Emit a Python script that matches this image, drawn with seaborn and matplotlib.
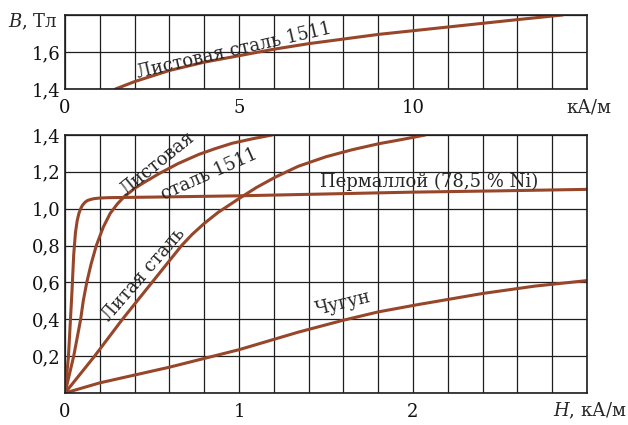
import numpy as np
import pandas as pd
import seaborn as sns
import matplotlib.pyplot as plt

# top panel: Листовая сталь 1511, high field range
h_top = [1.45, 2, 3, 4, 5, 6, 7, 8, 9, 10, 11, 12, 13, 14.3]
b_top = [1.40, 1.44, 1.50, 1.545, 1.58, 1.615, 1.645, 1.67, 1.695, 1.715, 1.735, 1.755, 1.775, 1.80]

# bottom panel
h_perm = [0, 0.02, 0.04, 0.05, 0.06, 0.07, 0.08, 0.09, 0.1, 0.115, 0.13, 0.15, 0.17, 0.2, 0.25, 0.5, 1, 1.5, 2, 2.5, 3]
b_perm = [0, 0.2, 0.55, 0.75, 0.87, 0.935, 0.975, 1.0, 1.018, 1.035, 1.045, 1.051, 1.055, 1.058, 1.06, 1.063, 1.07, 1.08, 1.09, 1.097, 1.105]
h_list = [0, 0.025, 0.05, 0.07, 0.09, 0.105, 0.125, 0.15, 0.18, 0.22, 0.26, 0.3, 0.34, 0.4, 0.45, 0.54, 0.65, 0.77, 0.86, 0.96, 1.08, 1.19]
b_list = [0, 0.1, 0.2, 0.3, 0.4, 0.5, 0.6, 0.7, 0.8, 0.9, 0.975, 1.025, 1.065, 1.11, 1.14, 1.19, 1.245, 1.295, 1.325, 1.355, 1.38, 1.4]
h_lit = [0, 0.17, 0.33, 0.50, 0.67, 0.73, 0.80, 0.88, 1.0, 1.1, 1.21, 1.34, 1.5, 1.65, 1.8, 1.95, 2.07]
b_lit = [0, 0.2, 0.4, 0.6, 0.8, 0.86, 0.92, 0.98, 1.055, 1.115, 1.172, 1.23, 1.282, 1.32, 1.352, 1.378, 1.4]
h_chug = [0, 0.2, 0.6, 1.0, 1.34, 1.6, 1.8, 2.03, 2.4, 2.7, 3.0]
b_chug = [0, 0.055, 0.14, 0.235, 0.33, 0.395, 0.44, 0.48, 0.54, 0.58, 0.61]

top_xticks = list(range(0, 16))
top_xlabels = ['0', '', '', '', '', '5', '', '', '', '', '10', '', '', '', '', '']
top_yticks = [1.4, 1.6, 1.8]
top_ylabels = ['1,4', '1,6', '']
bot_xticks = [round(0.2 * i, 1) for i in range(16)]
bot_xlabels = ['0', '', '', '', '', '1', '', '', '', '', '2', '', '', '', '', '']
bot_yticks = [round(0.2 * i, 1) for i in range(8)]
bot_ylabels = ['', '0,2', '0,4', '0,6', '0,8', '1,0', '1,2', '1,4']

sns.set_style('white')
plt.rcParams['font.family'] = ['DejaVu Serif']
plt.rcParams['mathtext.fontset'] = 'dejavuserif'

col = '#974629'
grid_c = '#1e1e1e'
fs = 13

fig = plt.figure(figsize=(6.28, 4.25), dpi=100)
ax1 = fig.add_axes([65 / 628, 1 - 89 / 425, 522 / 628, 74 / 425])
ax2 = fig.add_axes([65 / 628, 1 - 393 / 425, 522 / 628, 258 / 425])

df_top = pd.DataFrame({'H': h_top, 'B': b_top})
sns.lineplot(data=df_top, x='H', y='B', ax=ax1, color=col, lw=2.2, sort=False, estimator=None)

curves = [(h_perm, b_perm), (h_list, b_list), (h_lit, b_lit), (h_chug, b_chug)]
for h, b in curves:
    d = pd.DataFrame({'H': h, 'B': b})
    sns.lineplot(data=d, x='H', y='B', ax=ax2, color=col, lw=2.2, sort=False, estimator=None)

for ax, xt, xl, yt, yl, xlim, ylim in [
        (ax1, top_xticks, top_xlabels, top_yticks, top_ylabels, (0, 15), (1.4, 1.8)),
        (ax2, bot_xticks, bot_xlabels, bot_yticks, bot_ylabels, (0, 3), (0, 1.4))]:
    ax.set_xlim(*xlim)
    ax.set_ylim(*ylim)
    ax.set_xticks(xt)
    ax.set_xticklabels(xl)
    ax.set_yticks(yt)
    ax.set_yticklabels(yl)
    ax.set_xlabel('')
    ax.set_ylabel('')
    ax.grid(True, color=grid_c, lw=0.9)
    ax.set_axisbelow(True)
    ax.tick_params(length=0, labelsize=fs, colors='#111111')
    ax.tick_params(axis='x', pad=7)
    ax.tick_params(axis='y', pad=3)
    for s in ax.spines.values():
        s.set_color(grid_c)
        s.set_linewidth(1.2)

# axis captions
fig.text(8 / 628, 1 - 22 / 425, '$B$, Тл', fontsize=fs, va='center', ha='left')
fig.text(589 / 628, 1 - 107 / 425, 'кА/м', fontsize=fs, va='center', ha='center')
fig.text(627 / 628, 1 - 411 / 425, '$H$, кА/м', fontsize=fs, va='center', ha='right')

# curve labels
kw = dict(fontsize=fs, ha='center', va='center', rotation_mode='anchor')
ax1.text(4.85, 1.605, 'Листовая сталь 1511', rotation=13, **kw)
ax2.text(0.53, 1.245, 'Листовая', rotation=39, **kw)
ax2.text(0.83, 1.185, 'сталь 1511', rotation=24, **kw)
ax2.text(2.09, 1.145, 'Пермаллой (78,5 % Ni)', rotation=0, **kw)
ax2.text(0.45, 0.64, 'Литая сталь', rotation=49, **kw)
ax2.text(1.6, 0.485, 'Чугун', rotation=14, **kw)

fig.savefig('out.png', dpi=100)
